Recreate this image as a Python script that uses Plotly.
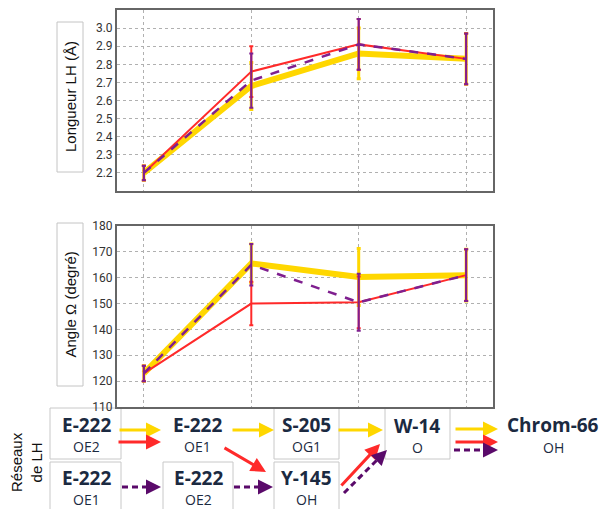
import plotly.graph_objects as go
import math

# ---------------- data ----------------
transitions = [0, 1, 2, 3]

length_yellow = [2.20, 2.68, 2.86, 2.83]
length_yellow_err = [0.04, 0.13, 0.14, 0.14]
length_red = [2.20, 2.76, 2.91, 2.83]
length_red_err = [0.04, 0.14, 0.14, 0.14]
length_purple = [2.20, 2.71, 2.91, 2.83]
length_purple_err = [0.04, 0.15, 0.14, 0.14]

angle_yellow = [123.0, 165.5, 160.3, 161.0]
angle_yellow_err = [3.0, 7.5, 11.0, 10.0]
angle_red = [123.0, 150.0, 150.5, 161.0]
angle_red_err = [3.0, 8.4, 10.0, 10.0]
angle_purple = [123.0, 165.0, 150.5, 161.0]
angle_purple_err = [3.0, 8.0, 11.0, 10.0]

length_ticks = [2.2, 2.3, 2.4, 2.5, 2.6, 2.7, 2.8, 2.9, 3.0]
angle_ticks = [110, 120, 130, 140, 150, 160, 170, 180]

YELLOW = "#FFD700"
RED = "#FF2A2A"
PURPLE = "#7F1F8F"
ARROW_PURPLE = "#5A0A6A"
NAVY = "#1B2A41"

W, H = 602, 509


def P(x, y):
    return x / W, 1 - y / H


fig = go.Figure()

series = [
    (length_yellow, length_yellow_err, angle_yellow, angle_yellow_err, YELLOW, 6, None, 3),
    (length_red, length_red_err, angle_red, angle_red_err, RED, 2, None, 2),
    (length_purple, length_purple_err, angle_purple, angle_purple_err, PURPLE, 2.5, "dash", 2),
]
for lv, le, av, ae, col, lw, dash, ew in series:
    fig.add_trace(go.Scatter(
        x=transitions, y=lv, mode="lines", xaxis="x", yaxis="y",
        line=dict(color=col, width=lw, dash=dash),
        error_y=dict(type="data", array=le, color=col, thickness=ew, width=2),
        showlegend=False, hoverinfo="skip"))
    fig.add_trace(go.Scatter(
        x=transitions, y=av, mode="lines", xaxis="x2", yaxis="y2",
        line=dict(color=col, width=lw, dash=dash),
        error_y=dict(type="data", array=ae, color=col, thickness=ew, width=2),
        showlegend=False, hoverinfo="skip"))

axis_common = dict(showline=True, mirror=True, linecolor="#666666", linewidth=2,
                   showgrid=True, gridcolor="#b0b0b0", griddash="dot", gridwidth=1,
                   zeroline=False, ticks="")
tickfont = dict(family="Roboto", size=12, color="#333333")

x0, _ = P(117, 0)
x1, _ = P(493, 0)
_, ty0 = P(0, 191)
_, ty1 = P(0, 10)
_, by0 = P(0, 407)
_, by1 = P(0, 226)

fig.update_layout(
    width=W, height=H, margin=dict(l=0, r=0, t=0, b=0, autoexpand=False),
    paper_bgcolor="white", plot_bgcolor="white",
    xaxis=dict(domain=[x0, x1], range=[-0.25, 3.25], tickvals=transitions,
               showticklabels=False, anchor="y", **axis_common),
    yaxis=dict(domain=[ty0, ty1], range=[2.1, 3.1], tickvals=length_ticks,
               tickformat=".1f", tickfont=tickfont, anchor="x", **axis_common),
    xaxis2=dict(domain=[x0, x1], range=[-0.25, 3.25], tickvals=transitions,
                showticklabels=False, anchor="y2", **axis_common),
    yaxis2=dict(domain=[by0, by1], range=[110, 180], tickvals=angle_ticks,
                tickfont=tickfont, anchor="x2", **axis_common),
)

shapes = []
annotations = []


def text_at(cx, cy, text, font, angle=0):
    px, py = P(cx, cy)
    annotations.append(dict(x=px, y=py, xref="paper", yref="paper", text=text,
                            xanchor="center", yanchor="middle", textangle=angle,
                            showarrow=False, font=font))


# y-title boxes
for (bx0, bt, bx1, bb, text) in [(57, 22, 83, 172, "Longueur LH (Å)"),
                                  (57, 223, 83, 386, "Angle Ω (degré)")]:
    a, b = P(bx0, bb)
    c, d = P(bx1, bt)
    shapes.append(dict(type="rect", xref="paper", yref="paper", x0=a, y0=b, x1=c, y1=d,
                       line=dict(color="#c4c4c4", width=1), fillcolor="white", layer="below"))
    text_at((bx0 + bx1) / 2, (bt + bb) / 2, text,
            dict(family="Liberation Sans", size=15, color="#111111"), -90)

# diagram boxes
boxes = [(50, 408, 121, 459), (274, 408, 339, 459), (385, 408, 450, 459),
         (50, 462, 121, 515), (163, 462, 233, 515), (274, 462, 339, 515)]
for (bx0, bt, bx1, bb) in boxes:
    a, b = P(bx0, bb)
    c, d = P(bx1, bt)
    shapes.append(dict(type="rect", xref="paper", yref="paper", x0=a, y0=b, x1=c, y1=d,
                       line=dict(color="#c8c8c8", width=1), fillcolor="white", layer="below"))

# diagram labels: (cx, residue centre y, atom centre y, residue, atom)
labels = [
    (86, 425, 446, "E-222", "OE2"),
    (197, 425, 446, "E-222", "OE1"),
    (306, 425, 446, "S-205", "OG1"),
    (417, 426, 447, "W-14", "O"),
    (553, 425, 447, "Chrom-66", "OH"),
    (86, 478, 499, "E-222", "OE1"),
    (198, 478, 499, "E-222", "OE2"),
    (306, 478, 499, "Y-145", "OH"),
]
for cx, yt, yb, res, atom in labels:
    text_at(cx, yt, "<b>%s</b>" % res, dict(family="Open Sans", size=19, color=NAVY))
    text_at(cx, yb, atom, dict(family="Open Sans", size=14, color=NAVY))

# "Réseaux de LH"
text_at(26, 462, "Réseaux<br>de LH", dict(family="Liberation Sans", size=15, color="#111111"), -90)

# arrows: (tail x, tail y, head x, head y, colour, dashed)
arrows = [
    (118, 430, 161, 430, YELLOW, False),
    (117, 442, 161, 442, RED, False),
    (231, 430, 274, 430, YELLOW, False),
    (223, 447, 266, 472, RED, False),
    (122, 487, 161, 487, ARROW_PURPLE, True),
    (234, 487, 273, 487, ARROW_PURPLE, True),
    (337, 430, 383, 430, YELLOW, False),
    (340, 487, 380, 444, RED, False),
    (344, 493, 387, 450, ARROW_PURPLE, True),
    (454, 429, 498, 429, YELLOW, False),
    (454, 442, 498, 442, RED, False),
    (454, 450, 498, 450, ARROW_PURPLE, True),
]
for tx, ty, hx, hy, col, dashed in arrows:
    hpx, hpy = P(hx, hy)
    if dashed:
        L = math.hypot(hx - tx, hy - ty)
        ux, uy = (hx - tx) / L, (hy - ty) / L
        ex, ey = hx - ux * 9, hy - uy * 9
        a, b = P(tx, ty)
        c, d = P(ex, ey)
        shapes.append(dict(type="line", xref="paper", yref="paper", x0=a, y0=b, x1=c, y1=d,
                           line=dict(color=col, width=3, dash="6px,4px"), layer="above"))
        annotations.append(dict(x=hpx, y=hpy, xref="paper", yref="paper", text="",
                                showarrow=True, arrowhead=2, arrowsize=1, arrowwidth=3,
                                arrowcolor=col, ax=-ux * 11, ay=-uy * 11, standoff=0))
    else:
        annotations.append(dict(x=hpx, y=hpy, xref="paper", yref="paper", text="",
                                showarrow=True, arrowhead=2, arrowsize=1, arrowwidth=3,
                                arrowcolor=col, ax=tx - hx, ay=ty - hy, standoff=0))

fig.update_layout(shapes=shapes, annotations=annotations)
fig.write_html("out.html", config={"displayModeBar": False},
               post_script="document.body.style.margin='0';document.body.style.overflow='hidden';")
